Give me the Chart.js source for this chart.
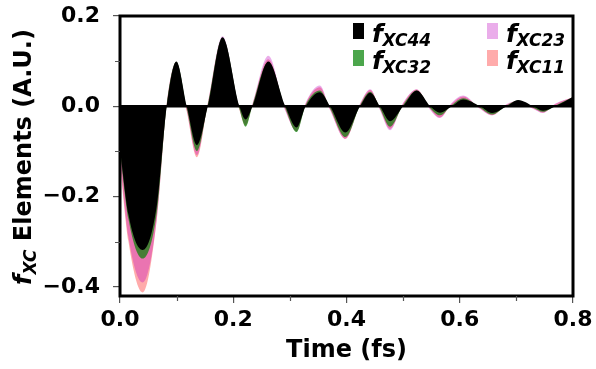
<!DOCTYPE html>
<html>
<head>
<meta charset="utf-8">
<script src="https://cdn.jsdelivr.net/npm/chart.js@4.4.1/dist/chart.umd.min.js"></script>
<style>
  html, body { margin: 0; padding: 0; background: #fff; }
  #wrap { width: 596px; height: 369px; }
</style>
</head>
<body>
<div id="wrap"><canvas id="fxcChart" width="596" height="369"></canvas></div>
<script>
// time points (fs) read at extrema and zero crossings
const timeFs = [0, 0.015, 0.04, 0.065, 0.0825, 0.0995, 0.118, 0.136, 0.155, 0.181,
  0.211, 0.222, 0.234, 0.262, 0.292, 0.312, 0.328, 0.353, 0.371, 0.398,
  0.424, 0.442, 0.459, 0.477, 0.5, 0.524, 0.548, 0.565, 0.586, 0.606,
  0.636, 0.657, 0.683, 0.703, 0.73, 0.747, 0.769, 0.8];

const fxc44 = [-0.095, -0.24, -0.318, -0.22, 0, 0.099, 0, -0.086, 0, 0.153,
  0, -0.029, 0, 0.099, 0, -0.047, 0, 0.031, 0, -0.058,
  0, 0.030, 0, -0.033, 0, 0.035, 0, -0.014, 0, 0.015,
  0, -0.015, 0, 0.014, 0, -0.010, 0, 0.021];

const fxc32 = [-0.10, -0.25, -0.337, -0.235, 0.003, 0.098, -0.005, -0.099, 0.004, 0.152,
  -0.006, -0.045, 0.002, 0.098, -0.004, -0.057, 0.003, 0.035, -0.004, -0.068,
  0.002, 0.032, -0.004, -0.045, 0.003, 0.035, -0.004, -0.020, 0.003, 0.018,
  -0.003, -0.018, 0.002, 0.013, -0.003, -0.012, 0.002, 0.020];

const fxc23 = [-0.12, -0.29, -0.39, -0.25, 0.006, 0.098, -0.010, -0.108, 0.007, 0.155,
  -0.006, -0.040, 0.006, 0.112, -0.010, -0.055, 0.008, 0.046, -0.008, -0.072,
  0.006, 0.038, -0.008, -0.053, 0.008, 0.038, -0.008, -0.026, 0.008, 0.024,
  -0.006, -0.020, 0.005, 0.012, -0.006, -0.015, 0.006, 0.020];

const fxc11 = [-0.13, -0.30, -0.412, -0.25, 0.005, 0.097, -0.012, -0.113, 0.006, 0.150,
  -0.008, -0.043, 0.004, 0.104, -0.008, -0.055, 0.006, 0.042, -0.007, -0.072,
  0.005, 0.036, -0.006, -0.050, 0.006, 0.037, -0.006, -0.025, 0.006, 0.022,
  -0.005, -0.020, 0.004, 0.012, -0.005, -0.014, 0.005, 0.020];

const seriesNames = ['XC44', 'XC32', 'XC23', 'XC11'];
const seriesValues = [fxc44, fxc32, fxc23, fxc11];
const seriesColors = ['#000000', 'rgba(0,128,0,0.7)', 'rgba(190,0,190,0.32)', 'rgba(255,0,0,0.33)'];

const yTicks = [-0.4, -0.3, -0.2, -0.1, 0.0, 0.1, 0.2];
const xTicks = [0, 0.1, 0.2, 0.3, 0.4, 0.5, 0.6, 0.7, 0.8];

const FONT = "'DejaVu Sans', sans-serif";

const isMajor = v => Math.round(v * 10) % 2 === 0;
const fmt = v => isMajor(v) ? v.toFixed(1).replace('-', '\u2212') : '';
const tickColor = c => isMajor(c.tick ? c.tick.value : 0) ? '#555' : 'rgba(0,0,0,0)';

// frame, zero line, minor ticks, axis titles and legend
const decor = {
    id: 'decor',
    afterDatasetsDraw(chart) {
        const { ctx, chartArea: a, scales } = chart;
        const y0 = scales.y.getPixelForValue(0);
        ctx.save();
        ctx.strokeStyle = '#000';
        ctx.lineWidth = 2.5;
        ctx.beginPath();
        ctx.moveTo(a.left, y0);
        ctx.lineTo(a.right, y0);
        ctx.stroke();
        ctx.lineWidth = 3;
        ctx.strokeRect(a.left, a.top, a.right - a.left, a.bottom - a.top);

        // minor ticks, shorter than the major ones
        ctx.strokeStyle = '#555';
        ctx.lineWidth = 1.2;
        ctx.beginPath();
        xTicks.filter(v => !isMajor(v)).forEach(v => {
            const px = Math.round(scales.x.getPixelForValue(v)) + 0.5;
            ctx.moveTo(px, a.bottom);
            ctx.lineTo(px, a.bottom + 5);
        });
        yTicks.filter(v => !isMajor(v)).forEach(v => {
            const py = Math.round(scales.y.getPixelForValue(v)) + 0.5;
            ctx.moveTo(a.left, py);
            ctx.lineTo(a.left - 5, py);
        });
        ctx.stroke();
        ctx.restore();
    },
    afterDraw(chart) {
        const { ctx, chartArea: a } = chart;
        ctx.save();
        ctx.fillStyle = '#000';
        ctx.textBaseline = 'alphabetic';

        // x title
        ctx.font = `bold 24px ${FONT}`;
        ctx.textAlign = 'center';
        ctx.fillText('Time (fs)', (a.left + a.right) / 2, 357);

        // y title
        ctx.textAlign = 'left';
        const bigIt = `italic bold 24px ${FONT}`;
        const subIt = `italic bold 17px ${FONT}`;
        const big = `bold 24px ${FONT}`;
        ctx.font = bigIt; const wf = ctx.measureText('f').width;
        ctx.font = subIt; const ws = ctx.measureText('XC').width;
        ctx.font = big; const wr = ctx.measureText(' Elements (A.U.)').width;
        const total = wf + ws + wr;
        ctx.translate(31, 157);
        ctx.rotate(-Math.PI / 2);
        let x = -total / 2;
        ctx.font = bigIt; ctx.fillText('f', x, 0); x += wf;
        ctx.font = subIt; ctx.fillText('XC', x, 5); x += ws;
        ctx.font = big; ctx.fillText(' Elements (A.U.)', x, 0);
        ctx.setTransform(1, 0, 0, 1, 0, 0);

        // legend
        const slots = [[353, 23], [353, 50], [487, 23], [487, 50]];
        seriesNames.forEach((name, k) => {
            const [sx, sy] = slots[k];
            ctx.fillStyle = seriesColors[k];
            ctx.fillRect(sx, sy, 11, 16);
            ctx.fillStyle = '#000';
            ctx.font = `italic bold 25px ${FONT}`;
            ctx.fillText('f', sx + 19, sy + 19);
            ctx.font = subIt;
            ctx.fillText(name, sx + 19 + wf, sy + 23);
        });
        ctx.restore();
    }
};

new Chart(document.getElementById('fxcChart').getContext('2d'), {
    type: 'line',
    data: {
        datasets: seriesValues.map((vals, k) => ({
            label: 'f' + seriesNames[k],
            data: timeFs.map((t, i) => ({ x: t, y: vals[i] })),
            backgroundColor: seriesColors[k],
            borderWidth: 0,
            pointRadius: 0,
            fill: 'origin',
            cubicInterpolationMode: 'monotone'
        }))
    },
    options: {
        responsive: false,
        animation: false,
        devicePixelRatio: 1,
        layout: { padding: { left: 0, right: 23, top: 16, bottom: 0 } },
        plugins: { legend: { display: false }, tooltip: { enabled: false } },
        scales: {
            x: {
                type: 'linear',
                min: 0,
                max: 0.8,
                afterBuildTicks: s => { s.ticks = xTicks.map(v => ({ value: v })); },
                afterFit: s => { s.height = 73; s.paddingLeft = 0; s.paddingRight = 0; },
                border: { display: false },
                grid: { drawOnChartArea: false, tickLength: 7, color: tickColor, lineWidth: 1.2 },
                ticks: {
                    padding: 4,
                    color: '#000',
                    font: { family: FONT, size: 22, weight: 'bold' },
                    maxRotation: 0,
                    autoSkip: false,
                    callback: v => fmt(v)
                }
            },
            y: {
                type: 'linear',
                min: -0.42,
                max: 0.2,
                afterBuildTicks: s => { s.ticks = yTicks.map(v => ({ value: v })); },
                afterFit: s => { s.width = 120; s.paddingTop = 0; s.paddingBottom = 0; },
                border: { display: false },
                grid: { drawOnChartArea: false, tickLength: 7, color: tickColor, lineWidth: 1.2 },
                ticks: {
                    padding: 13,
                    color: '#000',
                    font: { family: FONT, size: 22, weight: 'bold' },
                    autoSkip: false,
                    callback: v => fmt(v)
                }
            }
        }
    },
    plugins: [decor]
});
</script>
</body>
</html>
